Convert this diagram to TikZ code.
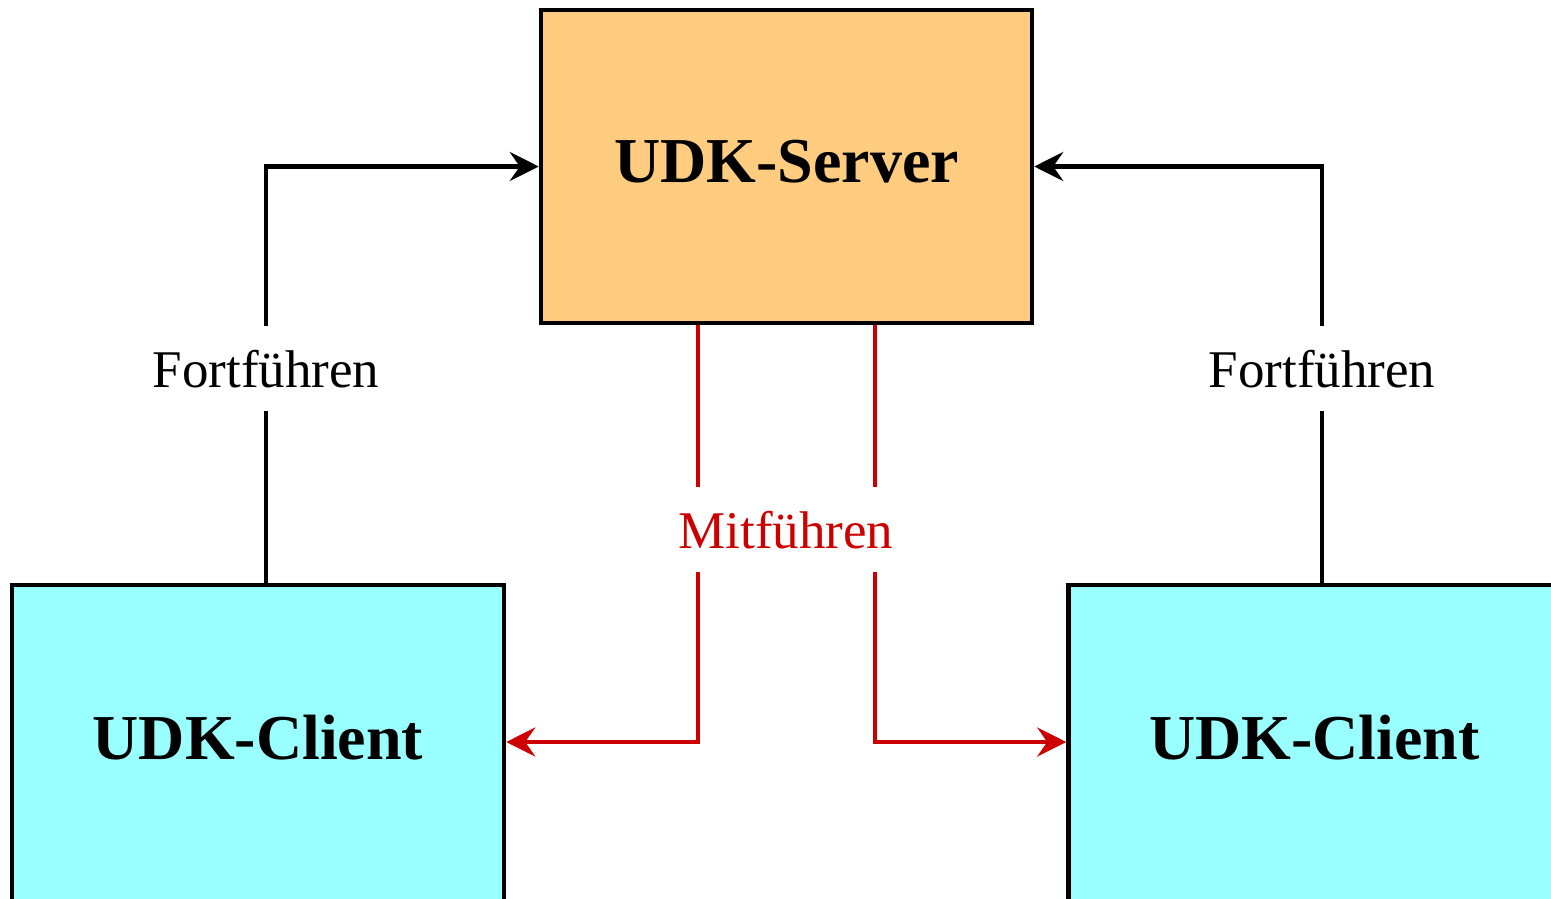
\documentclass[tikz,border=0pt]{standalone}
\usepackage{fontspec}
\setmainfont{Liberation Serif}
\usetikzlibrary{arrows.meta}
\definecolor{srvfill}{RGB}{255,204,128}
\definecolor{clifill}{RGB}{153,255,255}
\definecolor{linkred}{RGB}{204,0,0}
\begin{document}
\begin{tikzpicture}[x=1pt,y=-1pt,
  box/.style={draw=black, line width=4.5pt, rectangle, inner sep=0pt,
    font=\fontsize{64}{70}\selectfont\bfseries, text depth=10pt},
  srvbox/.style={box, fill=srvfill, minimum width=491pt, minimum height=313pt},
  clibox/.style={box, fill=clifill, minimum width=492pt, minimum height=318pt, text depth=14pt},
  lbl/.style={inner xsep=4pt, inner ysep=0pt, outer sep=0pt, minimum height=85pt,
    text height=37pt, text depth=0pt, font=\fontsize{53}{60}\selectfont},
  conn/.style={line width=4.5pt, -{Stealth[length=29pt, width=29pt, inset=10pt]}},
  seg/.style={line width=4.5pt}
]
\useasboundingbox (0,0) rectangle (1551,898);
\node[srvbox] (srv) at (786.5,166.5) {UDK-Server};
\node[clibox] (cl1) at (258,744) {UDK-Client};
\node[clibox] (cl2) at (1314.5,744) {UDK-Client};
\node[lbl] (f1) at (266,368.5) {Fortführen};
\node[lbl] (f2) at (1322,368.5) {Fortführen};
\node[lbl, text=linkred] (m) at (786,529.5) {Mitführen};
\coordinate (xa) at (698,0);
\coordinate (xb) at (875,0);
\coordinate (ya) at (0,742);
% Fortfuehren left
\draw[seg] (cl1.north -| f1) -- (f1.south);
\draw[conn] (f1.north) |- (srv.west);
% Fortfuehren right
\draw[seg] (cl2.north -| f2) -- (f2.south);
\draw[conn] (f2.north) |- (srv.east);
% Mitfuehren
\draw[seg, linkred] (srv.south -| xa) -- (m.north -| xa);
\draw[conn, linkred] (m.south -| xa) |- (cl1.east |- ya);
\draw[seg, linkred] (srv.south -| xb) -- (m.north -| xb);
\draw[conn, linkred] (m.south -| xb) |- (cl2.west |- ya);
\end{tikzpicture}
\end{document}
